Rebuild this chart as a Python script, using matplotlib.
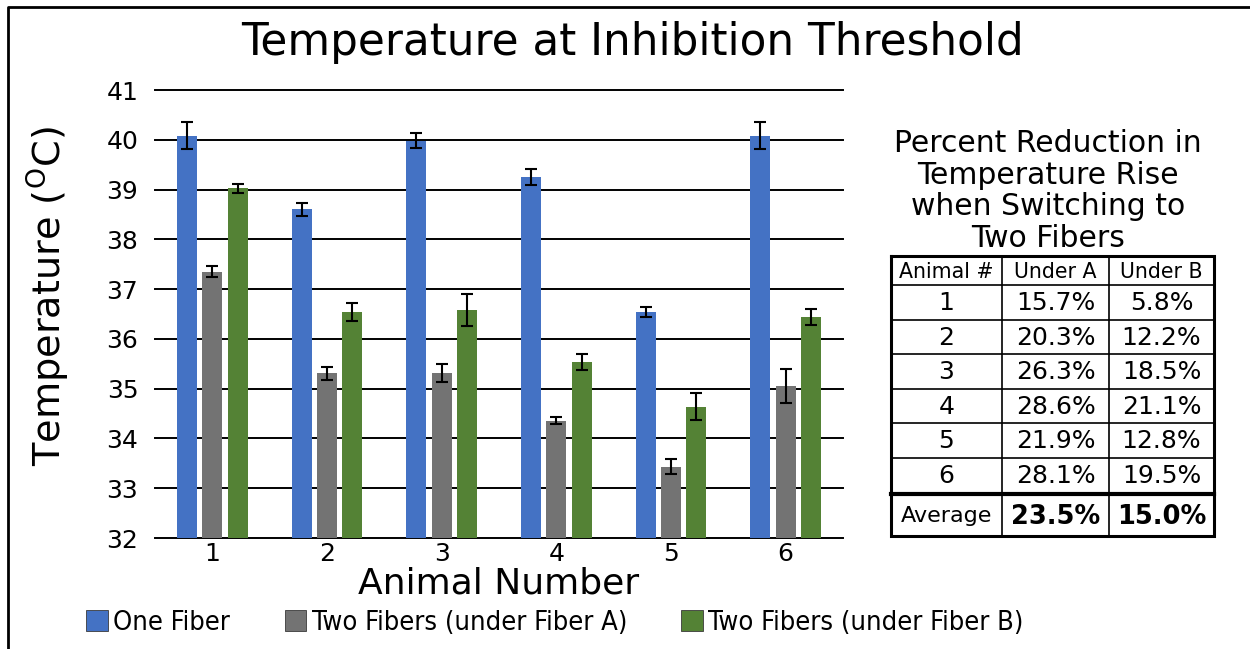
import numpy as np
import matplotlib
matplotlib.use("Agg")
import matplotlib.pyplot as plt
from matplotlib.patches import Patch

# chart data
animals = ["1", "2", "3", "4", "5", "6"]
one_fiber = [40.08, 38.60, 39.98, 39.26, 36.54, 40.08]
one_fiber_err = [0.27, 0.13, 0.15, 0.16, 0.11, 0.27]
under_a = [37.35, 35.31, 35.31, 34.36, 33.43, 35.06]
under_a_err = [0.11, 0.13, 0.18, 0.07, 0.15, 0.34]
under_b = [39.03, 36.54, 36.58, 35.54, 34.64, 36.44]
under_b_err = [0.09, 0.18, 0.33, 0.16, 0.27, 0.17]
series_names = ["One Fiber", "Two Fibers (under Fiber A)", "Two Fibers (under Fiber B)"]
colors = ["#4472C4", "#737373", "#548235"]
yticks = [32, 33, 34, 35, 36, 37, 38, 39, 40, 41]

# table data
table_title = "Percent Reduction in\nTemperature Rise\nwhen Switching to\nTwo Fibers"
table_header = ["Animal #", "Under A", "Under B"]
table_a = ["15.7%", "20.3%", "26.3%", "28.6%", "21.9%", "28.1%"]
table_b = ["5.8%", "12.2%", "18.5%", "21.1%", "12.8%", "19.5%"]
avg_label = "Average"
avg_a = "23.5%"
avg_b = "15.0%"

W, H = 1250, 649
fig = plt.figure(figsize=(W / 100, H / 100), dpi=100)

# main bar chart
ax = fig.add_axes([155 / W, 1 - 538 / H, 688 / W, 448 / H])
x = np.arange(1, len(animals) + 1)
bw = 0.174
off = 0.222
for vals, errs, c, k in zip([one_fiber, under_a, under_b],
                            [one_fiber_err, under_a_err, under_b_err],
                            colors, [-1, 0, 1]):
    ax.bar(x + k * off, np.array(vals) - 32, bw, bottom=32, color=c, zorder=3)
    ax.errorbar(x + k * off, vals, yerr=errs, fmt="none", ecolor="black",
                elinewidth=1.5, capsize=4, capthick=1.5, zorder=4)

ax.set_xlim(0.5, 6.5)
ax.set_ylim(32, 41)
ax.set_yticks(yticks)
ax.set_xticks(x)
ax.set_xticklabels(animals)
ax.tick_params(axis="both", length=0, labelsize=18)
ax.tick_params(axis="y", pad=12)
ax.tick_params(axis="x", pad=3)
for yv in yticks:
    ax.axhline(yv, color="black", lw=1.4, zorder=1, clip_on=False)
for s in ax.spines.values():
    s.set_visible(False)
ax.set_xlabel("Animal Number", fontsize=26, labelpad=0)
ax.set_ylabel(r"Temperature ($^{\mathrm{O}}$C)", fontsize=27.5)
ax.yaxis.set_label_coords(-0.12, 0.54)

fig.text(632 / W, 1 - 42 / H, "Temperature at Inhibition Threshold",
         fontsize=31.5, ha="center", va="center")

# legend
handles = [Patch(facecolor=c, edgecolor="#3a3a3a", lw=0.6, label=n)
           for c, n in zip(colors, series_names)]
fig.legend(handles=handles, loc="center", bbox_to_anchor=(555 / W, 1 - 623 / H),
           ncol=3, frameon=False, handlelength=0.8, handleheight=0.8,
           handletextpad=0.2, columnspacing=2.0,
           prop={"size": 19.5, "stretch": "condensed"})

# overlay in pixel coordinates for table and frame
ov = fig.add_axes([0, 0, 1, 1], facecolor="none")
ov.set_xlim(0, W)
ov.set_ylim(H, 0)
ov.axis("off")

ov.plot([8, 8, W], [H, 7, 7], color="black", lw=2, solid_capstyle="butt")

ov.text(1048, 191, table_title, ha="center", va="center", fontsize=21.5,
        linespacing=1.12)

cols = [891, 1002, 1109, 1214]
top = 256
head_h = 29
row_h = 34.5
avg_h = 41
rows_top = top + head_h
rows_bot = rows_top + row_h * len(table_a)
bot = rows_bot + 3 + avg_h

cell_fs = 18
for j, t in enumerate(table_header):
    ov.text((cols[j] + cols[j + 1]) / 2, top + head_h / 2 + 1, t,
            ha="center", va="center", fontsize=14.8)
for i in range(len(table_a)):
    yc = rows_top + row_h * (i + 0.5) + 1
    for j, t in enumerate([animals[i], table_a[i], table_b[i]]):
        ov.text((cols[j] + cols[j + 1]) / 2, yc, t, ha="center", va="center",
                fontsize=cell_fs)
ya = rows_bot + 3 + avg_h / 2 + 1
ov.text((cols[0] + cols[1]) / 2, ya, avg_label, ha="center", va="center", fontsize=16)
ov.text((cols[1] + cols[2]) / 2, ya, avg_a, ha="center", va="center",
        fontsize=18.5, fontweight="bold")
ov.text((cols[2] + cols[3]) / 2, ya, avg_b, ha="center", va="center",
        fontsize=18.5, fontweight="bold")

# grid lines of table
ov.plot([cols[0], cols[-1]], [top + head_h, top + head_h], color="black", lw=1.2)
for i in range(1, len(table_a)):
    yl = rows_top + row_h * i
    ov.plot([cols[0], cols[-1]], [yl, yl], color="black", lw=1.2)
ov.plot([cols[0], cols[-1]], [rows_bot + 1.5, rows_bot + 1.5], color="black", lw=3)
for c in cols[1:-1]:
    ov.plot([c, c], [top, bot], color="black", lw=1.2)
ov.plot([cols[0], cols[-1], cols[-1], cols[0], cols[0]], [top, top, bot, bot, top],
        color="black", lw=2.2, solid_joinstyle="miter")

fig.savefig("out.png", dpi=100)
